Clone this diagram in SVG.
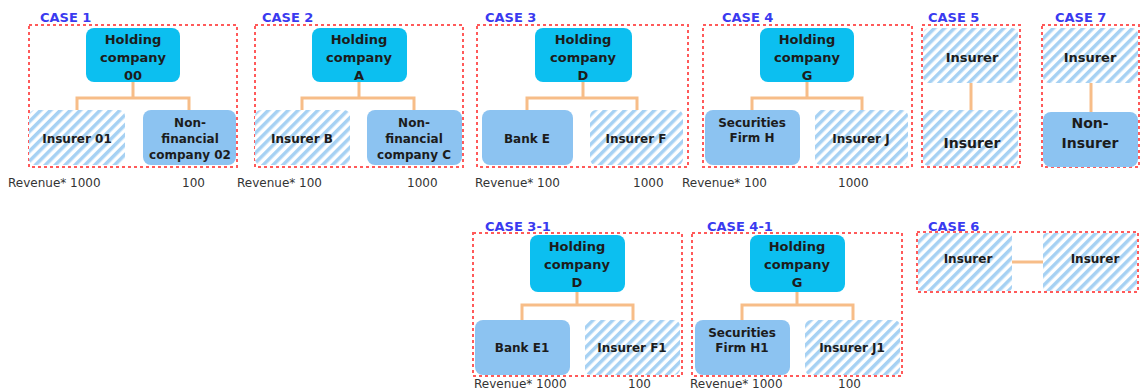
<svg xmlns="http://www.w3.org/2000/svg" width="1141" height="392" viewBox="0 0 1141 392">
<defs>
<pattern id="hatch" width="7" height="7" patternUnits="userSpaceOnUse" patternTransform="rotate(45)">
<rect width="7" height="7" fill="#ffffff"/>
<rect width="3.5" height="7" fill="#a6d1f3"/>
</pattern>
<style>
.frame{fill:none;stroke:#ff5a5a;stroke-width:2;stroke-dasharray:3 3}
.hold{fill:#0cbff0}
.solid{fill:#8cc3f1}
.hat{fill:url(#hatch)}
.t{font-family:"DejaVu Sans",sans-serif;font-weight:bold;fill:#1c1c1c;text-anchor:middle}
.h{font-size:13px}
.c{font-size:12px}
.big{font-size:14px}
.lbl{font-family:"DejaVu Sans",sans-serif;font-weight:bold;font-size:13px;fill:#3a3af0}
.rev{font-family:"DejaVu Sans",sans-serif;font-size:12px;fill:#333333}
.con{fill:none;stroke:#f7bd88;stroke-width:3}
</style>
</defs>
<rect width="1141" height="392" fill="#ffffff"/>

<g id="frames">
<rect class="frame" x="29" y="25" width="208" height="142"/>
<rect class="frame" x="255" y="25" width="208" height="142"/>
<rect class="frame" x="477" y="25" width="211" height="142"/>
<rect class="frame" x="703" y="25" width="209" height="142"/>
<rect class="frame" x="922" y="25" width="98" height="142"/>
<rect class="frame" x="1042" y="25" width="97" height="142"/>
<rect class="frame" x="473" y="233" width="209" height="143"/>
<rect class="frame" x="692" y="233" width="210" height="143"/>
<rect class="frame" x="917" y="232" width="221" height="60"/>
</g>

<g id="labels">
<text class="lbl" x="40" y="22">CASE 1</text>
<text class="lbl" x="262" y="22">CASE 2</text>
<text class="lbl" x="485" y="22">CASE 3</text>
<text class="lbl" x="722" y="22">CASE 4</text>
<text class="lbl" x="928" y="22">CASE 5</text>
<text class="lbl" x="1055" y="22">CASE 7</text>
<text class="lbl" x="485" y="231">CASE 3-1</text>
<text class="lbl" x="707" y="231">CASE 4-1</text>
<text class="lbl" x="928" y="231">CASE 6</text>
</g>

<g id="connectors">
<path class="con" d="M133,82 V98 M77,110 V98 H189 V110"/>
<path class="con" d="M359,82 V98 M302,110 V98 H414 V110"/>
<path class="con" d="M583,82 V98 M527,110 V98 H637 V110"/>
<path class="con" d="M807,82 V98 M752,110 V98 H862 V110"/>
<path class="con" d="M971,83 V110"/>
<path class="con" d="M1091,83 V112"/>
<path class="con" d="M577,292 V305 M522,320 V305 H633 V320"/>
<path class="con" d="M797,292 V305 M742,320 V305 H853 V320"/>
<path class="con" d="M1012,262 H1043"/>
</g>

<g id="case1-holding"><rect class="hold" x="86" y="28" width="94" height="54" rx="8"/>
<text class="t h" x="133" y="44">Holding</text><text class="t h" x="133" y="62">company</text><text class="t h" x="133" y="80">00</text></g>
<g id="case1-insurer"><rect class="hat" x="29" y="110" width="96" height="55" rx="6"/>
<text class="t c" x="77" y="143">Insurer 01</text></g>
<g id="case1-nonfin"><rect class="solid" x="143" y="110" width="93" height="55" rx="8"/>
<text class="t c" x="190" y="127">Non-</text><text class="t c" x="190" y="143">financial</text><text class="t c" x="190" y="159">company 02</text></g>

<g id="case2-holding"><rect class="hold" x="312" y="28" width="95" height="54" rx="8"/>
<text class="t h" x="359" y="44">Holding</text><text class="t h" x="359" y="62">company</text><text class="t h" x="359" y="80">A</text></g>
<g id="case2-insurer"><rect class="hat" x="255" y="110" width="95" height="55" rx="6"/>
<text class="t c" x="302" y="143">Insurer B</text></g>
<g id="case2-nonfin"><rect class="solid" x="367" y="110" width="95" height="55" rx="8"/>
<text class="t c" x="414" y="127">Non-</text><text class="t c" x="414" y="143">financial</text><text class="t c" x="414" y="159">company C</text></g>

<g id="case3-holding"><rect class="hold" x="535" y="28" width="97" height="54" rx="8"/>
<text class="t h" x="583" y="44">Holding</text><text class="t h" x="583" y="62">company</text><text class="t h" x="583" y="80">D</text></g>
<g id="case3-bank"><rect class="solid" x="482" y="110" width="91" height="55" rx="8"/>
<text class="t c" x="527" y="143">Bank E</text></g>
<g id="case3-insurer"><rect class="hat" x="590" y="110" width="93" height="55" rx="6"/>
<text class="t c" x="636" y="143">Insurer F</text></g>

<g id="case4-holding"><rect class="hold" x="760" y="28" width="94" height="54" rx="8"/>
<text class="t h" x="807" y="44">Holding</text><text class="t h" x="807" y="62">company</text><text class="t h" x="807" y="80">G</text></g>
<g id="case4-sec"><rect class="solid" x="705" y="110" width="95" height="55" rx="8"/>
<text class="t c" x="752" y="127">Securities</text><text class="t c" x="752" y="142">Firm H</text></g>
<g id="case4-insurer"><rect class="hat" x="815" y="110" width="93" height="55" rx="6"/>
<text class="t c" x="861" y="143">Insurer J</text></g>

<g id="case5-insurer-top"><rect class="hat" x="923" y="28" width="95" height="55" rx="6"/>
<text class="t h" x="972" y="62">Insurer</text></g>
<g id="case5-insurer-bottom"><rect class="hat" x="923" y="110" width="95" height="56" rx="6"/>
<text class="t big" x="972" y="148">Insurer</text></g>

<g id="case7-insurer"><rect class="hat" x="1043" y="28" width="95" height="55" rx="6"/>
<text class="t h" x="1090" y="62">Insurer</text></g>
<g id="case7-noninsurer"><rect class="solid" x="1043" y="112" width="95" height="55" rx="8"/>
<text class="t big" x="1090" y="128">Non-</text><text class="t big" x="1090" y="148">Insurer</text></g>

<g id="case31-holding"><rect class="hold" x="530" y="235" width="95" height="57" rx="8"/>
<text class="t h" x="577" y="251">Holding</text><text class="t h" x="577" y="269">company</text><text class="t h" x="577" y="287">D</text></g>
<g id="case31-bank"><rect class="solid" x="475" y="320" width="95" height="55" rx="8"/>
<text class="t c" x="522" y="352">Bank E1</text></g>
<g id="case31-insurer"><rect class="hat" x="585" y="320" width="95" height="55" rx="6"/>
<text class="t c" x="632" y="352">Insurer F1</text></g>

<g id="case41-holding"><rect class="hold" x="750" y="235" width="95" height="57" rx="8"/>
<text class="t h" x="797" y="251">Holding</text><text class="t h" x="797" y="269">company</text><text class="t h" x="797" y="287">G</text></g>
<g id="case41-sec"><rect class="solid" x="695" y="320" width="95" height="55" rx="8"/>
<text class="t c" x="742" y="337">Securities</text><text class="t c" x="742" y="352">Firm H1</text></g>
<g id="case41-insurer"><rect class="hat" x="805" y="320" width="95" height="55" rx="6"/>
<text class="t c" x="852" y="352">Insurer J1</text></g>

<g id="case6-insurer-left"><rect class="hat" x="918" y="233" width="94" height="58" rx="4"/>
<text class="t c" x="968" y="263">Insurer</text></g>
<g id="case6-insurer-right"><rect class="hat" x="1043" y="233" width="94" height="58" rx="4"/>
<text class="t c" x="1095" y="263">Insurer</text></g>

<g id="revenues">
<text class="rev" x="8" y="187">Revenue* 1000</text><text class="rev" x="182" y="187">100</text>
<text class="rev" x="237" y="187">Revenue* 100</text><text class="rev" x="407" y="187">1000</text>
<text class="rev" x="475" y="187">Revenue* 100</text><text class="rev" x="633" y="187">1000</text>
<text class="rev" x="682" y="187">Revenue* 100</text><text class="rev" x="838" y="187">1000</text>
<text class="rev" x="474" y="388">Revenue* 1000</text><text class="rev" x="628" y="388">100</text>
<text class="rev" x="690" y="388">Revenue* 1000</text><text class="rev" x="838" y="388">100</text>
</g>
</svg>
